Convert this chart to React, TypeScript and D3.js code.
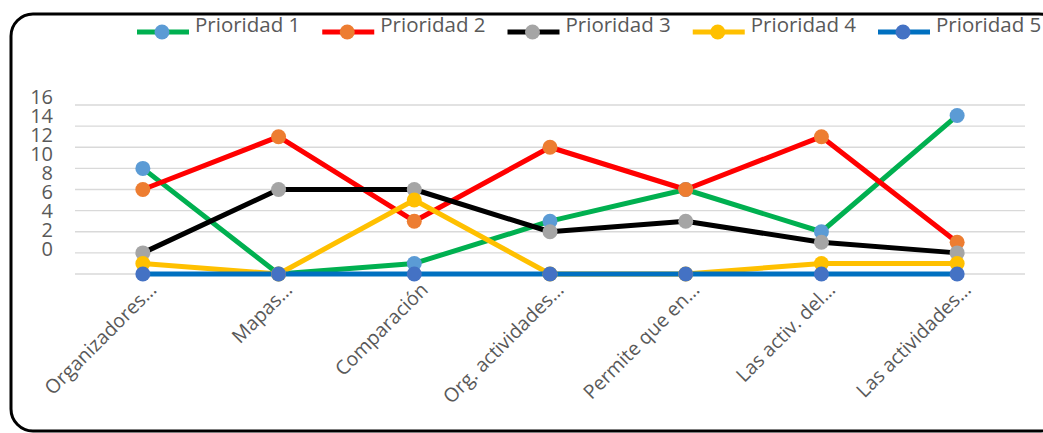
import React from "react";
import * as d3 from "d3";

const categories = [
    "Organizadores…",
    "Mapas…",
    "Comparación",
    "Org. actividades…",
    "Permite que en…",
    "Las activ. del…",
    "Las actividades…",
];

const prioridad1 = [10, 0, 1, 5, 8, 4, 15];
const prioridad2 = [8, 13, 5, 12, 8, 13, 3];
const prioridad3 = [2, 8, 8, 4, 5, 3, 2];
const prioridad4 = [1, 0, 7, 0, 0, 1, 1];
const prioridad5 = [0, 0, 0, 0, 0, 0, 0];

const yTicks = [0, 2, 4, 6, 8, 10, 12, 14, 16];

const series = [
    { name: "Prioridad 1", values: prioridad1, line: "#00B050", marker: "#5B9BD5" },
    { name: "Prioridad 2", values: prioridad2, line: "#FF0000", marker: "#ED7D31" },
    { name: "Prioridad 3", values: prioridad3, line: "#000000", marker: "#A5A5A5" },
    { name: "Prioridad 4", values: prioridad4, line: "#FFC000", marker: "#FFC000" },
    { name: "Prioridad 5", values: prioridad5, line: "#0070C0", marker: "#4472C4" },
];

const W = 1043;
const H = 433;
const plot = { left: 75, right: 1025, top: 105, bottom: 274 };
const font = "'Open Sans', sans-serif";

export default function App() {
    const x = d3.scalePoint<string>()
        .domain(categories)
        .range([plot.left, plot.right])
        .padding(0.5);

    const y = d3.scaleLinear().domain([0, 16]).range([plot.bottom, plot.top]);

    // the tick labels sit on a tighter spacing than the gridlines in the original
    const yLabel = d3.scaleLinear().domain([0, 16]).range([249, 97]);

    const line = d3.line<number>()
        .x((d, i) => x(categories[i]) as number)
        .y(d => y(d));

    const legendX = d3.scaleLinear().domain([0, 4]).range([137, 878]);

    return (
        <svg width={W} height={H} style={{ position: "absolute", left: 0, top: 0, background: "white" }}>
            <rect x={11} y={14} width={1050} height={417} rx={22} ry={22}
                fill="white" stroke="black" strokeWidth={3} />

            {yTicks.map(t => (
                <line key={"g" + t} x1={plot.left} x2={plot.right} y1={y(t)} y2={y(t)}
                    stroke="#D9D9D9" strokeWidth={1.3} />
            ))}

            {yTicks.map(t => (
                <text key={"l" + t} x={53} y={yLabel(t)} dy="0.36em" textAnchor="end"
                    fontFamily={font} fontSize={20} fill="#595959">{t}</text>
            ))}

            {categories.map(c => {
                const cx = (x(c) as number) + 15;
                const cy = 291;
                return (
                    <text key={c} x={cx} y={cy} textAnchor="end" transform={`rotate(-45,${cx},${cy})`}
                        fontFamily={font} fontSize={19.5} fill="#595959">{c}</text>
                );
            })}

            {series.map(s => (
                <path key={"p" + s.name} d={line(s.values) as string} fill="none"
                    stroke={s.line} strokeWidth={5} strokeLinejoin="round" />
            ))}

            {series.map(s => (
                <g key={"m" + s.name}>
                    {s.values.map((v, i) => (
                        <circle key={i} cx={x(categories[i]) as number} cy={y(v)} r={7.5} fill={s.marker} />
                    ))}
                </g>
            ))}

            {series.map((s, i) => {
                const lx = legendX(i);
                return (
                    <g key={"lg" + s.name}>
                        <line x1={lx} x2={lx + 52} y1={32} y2={32} stroke={s.line} strokeWidth={5} />
                        <circle cx={lx + 25} cy={32} r={7.5} fill={s.marker} />
                        <text x={lx + 58} y={25} dy="0.36em" fontFamily={font} fontSize={20.5} fill="#595959">{s.name}</text>
                    </g>
                );
            })}
        </svg>
    );
}
